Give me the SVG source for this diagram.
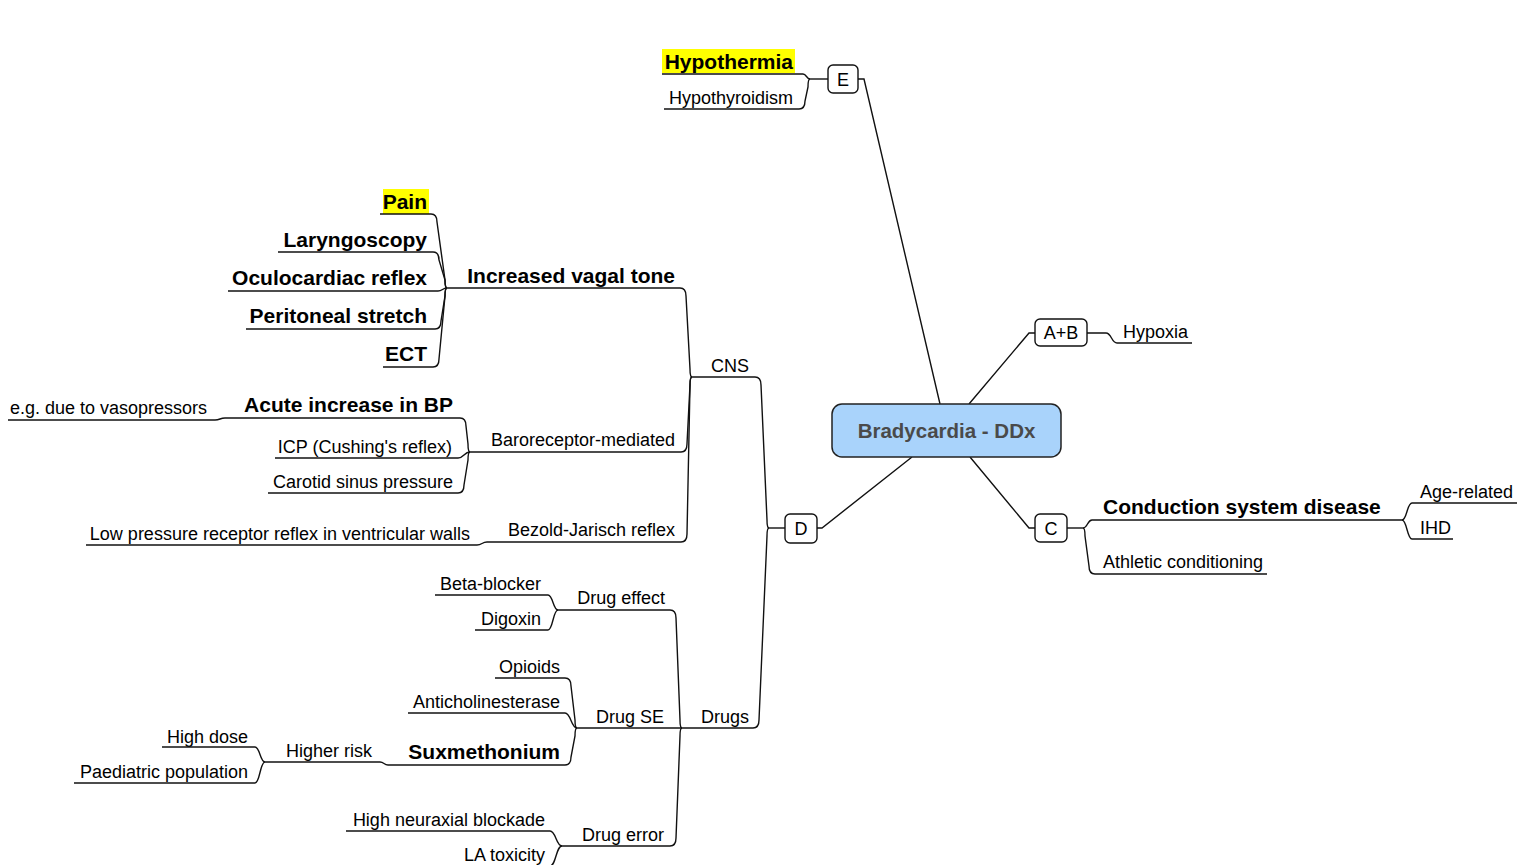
<svg xmlns="http://www.w3.org/2000/svg" width="1534" height="865" viewBox="0 0 1534 865">
<style>
text{font-family:"Liberation Sans",Arial,sans-serif;fill:#000}
.n{font-size:18px}
.b{font-size:21px;font-weight:bold}
.e{text-anchor:end}
.m{text-anchor:middle}
.u,.c path{fill:none;stroke:#111;stroke-width:1.4}
.box{fill:#fff;stroke:#111;stroke-width:1.4}
.hl{fill:#ffff00}
</style>
<rect width="1534" height="865" fill="#fff"/>
<g id="connectors" class="c">
<path d="M858,79 L864,79 L940,404"/>
<path d="M969,404 L1029,333 L1035,333"/>
<path d="M912,457 L822,528 L817,528"/>
<path d="M970,457 L1029,528 L1035,528"/>
<path d="M828,79 L810,79"/>
<path d="M810,79 C806.5,79 806.5,74 803,74"/>
<path d="M810,79 Q808,79 808,87 L805,101 Q805,109 799,109"/>
<path d="M785,528 L769,528"/>
<path d="M769,528 Q767,528 767,520 L761,385 Q761,377 755,377"/>
<path d="M769,528 Q767,528 767,536 L759,720 Q759,728 753,728"/>
<path d="M692,377 Q690,377 690,369 L686,296 Q686,288 680,288"/>
<path d="M692,377 Q690,377 690,385 L687,444 Q687,452 681,452"/>
<path d="M692,377 Q690,377 690,385 L687,534 Q687,542 681,542"/>
<path d="M447,288 Q445,288 445,280 L437,222 Q437,214 431,214"/>
<path d="M447,288 Q445,288 445,280 L439,260 Q439,252 433,252"/>
<path d="M447,288 C442.5,288 442.5,291 438,291"/>
<path d="M447,288 Q445,288 445,296 L441,321 Q441,329 435,329"/>
<path d="M447,288 Q445,288 445,296 L439,359 Q439,367 433,367"/>
<path d="M470,452 Q468,452 468,444 L466,426 Q466,418 460,418"/>
<path d="M470,452 C464,452 464,458 458,458"/>
<path d="M470,452 Q468,452 468,460 L464,485 Q464,493 458,493"/>
<path d="M225,418 C220,418 220,420 215,420"/>
<path d="M487,542 C482,542 482,545 477,545"/>
<path d="M682,728 Q680,728 680,720 L676,618 Q676,610 670,610"/>
<path d="M682,728 Q680,728 680,736 L676,838 Q676,846 670,846"/>
<path d="M558,610 C553,610 553,595 548,595"/>
<path d="M558,610 C553,610 553,630 548,630"/>
<path d="M577,728 Q575,728 575,720 L571,686 Q571,678 565,678"/>
<path d="M577,728 C571,728 571,713 565,713"/>
<path d="M577,728 Q575,728 575,736 L571,757 Q571,765 565,765"/>
<path d="M388,765 C384,765 384,762 380,762"/>
<path d="M265,762 C260,762 260,747 255,747"/>
<path d="M265,762 C260,762 260,783 255,783"/>
<path d="M562,846 C556,846 556,831 550,831"/>
<path d="M562,846 C556,846 556,866 550,866"/>
<path d="M1087,333 L1106,333 C1111.5,333 1111.5,343 1117,343"/>
<path d="M1067,528 L1083,528"/>
<path d="M1083,528 C1087.5,528 1087.5,520 1092,520"/>
<path d="M1083,528 Q1085,528 1085,536 L1089,566 Q1089,574 1095,574"/>
<path d="M1402,520 C1407,520 1407,503 1412,503"/>
<path d="M1402,520 C1407,520 1407,539 1412,539"/>
</g>
<g id="root">
<rect x="832" y="404" width="229" height="53" rx="10" fill="#a9d3fb" stroke="#222" stroke-width="1.5"/>
<text x="946.5" y="438" class="m" style="font-size:20.5px;font-weight:bold;fill:#4a4a4a">Bradycardia - DDx</text>
</g>
<g id="node-E"><rect class="box" x="828" y="65" width="30" height="28" rx="5"/><text class="n m" x="843" y="86">E</text></g>
<g id="node-AB"><rect class="box" x="1035" y="319" width="52" height="27" rx="5"/><text class="n m" x="1061" y="339">A+B</text></g>
<g id="node-D"><rect class="box" x="785" y="514" width="32" height="29" rx="5"/><text class="n m" x="801" y="535">D</text></g>
<g id="node-C"><rect class="box" x="1035" y="514" width="32" height="28" rx="5"/><text class="n m" x="1051" y="535">C</text></g>
<g id="node-hypothermia"><rect class="hl" x="662" y="49" width="133" height="24"/><text class="b e" x="793" y="69">Hypothermia</text><path class="u" d="M662,74 L803,74"/></g>
<g id="node-hypothyroidism"><text class="n e" x="793" y="104">Hypothyroidism</text><path class="u" d="M664,109 L799,109"/></g>
<g id="node-hypoxia"><text class="n" x="1123" y="338">Hypoxia</text><path class="u" d="M1117,343 L1192,343"/></g>
<g id="node-cns"><text class="n e" x="749" y="372">CNS</text><path class="u" d="M692,377 L755,377"/></g>
<g id="node-vagal"><text class="b e" x="675" y="283">Increased vagal tone</text><path class="u" d="M447,288 L680,288"/></g>
<g id="node-pain"><rect class="hl" x="383" y="189" width="46" height="25"/><text class="b e" x="427" y="209">Pain</text><path class="u" d="M380,214 L431,214"/></g>
<g id="node-laryngoscopy"><text class="b e" x="427" y="247">Laryngoscopy</text><path class="u" d="M278,252 L433,252"/></g>
<g id="node-oculocardiac"><text class="b e" x="427" y="285">Oculocardiac reflex</text><path class="u" d="M228,291 L438,291"/></g>
<g id="node-peritoneal"><text class="b e" x="427" y="323">Peritoneal stretch</text><path class="u" d="M246,329 L435,329"/></g>
<g id="node-ect"><text class="b e" x="427" y="361">ECT</text><path class="u" d="M383,367 L433,367"/></g>
<g id="node-baro"><text class="n e" x="675" y="446">Baroreceptor-mediated</text><path class="u" d="M470,452 L681,452"/></g>
<g id="node-acute"><text class="b e" x="453" y="412">Acute increase in BP</text><path class="u" d="M225,418 L460,418"/></g>
<g id="node-eg"><text class="n e" x="207" y="414">e.g. due to vasopressors</text><path class="u" d="M8,420 L215,420"/></g>
<g id="node-icp"><text class="n e" x="452" y="453">ICP (Cushing's reflex)</text><path class="u" d="M275,458 L458,458"/></g>
<g id="node-carotid"><text class="n e" x="453" y="488">Carotid sinus pressure</text><path class="u" d="M268,493 L458,493"/></g>
<g id="node-bezold"><text class="n e" x="675" y="536">Bezold-Jarisch reflex</text><path class="u" d="M487,542 L681,542"/></g>
<g id="node-lowpressure"><text class="n e" x="470" y="540">Low pressure receptor reflex in ventricular walls</text><path class="u" d="M86,545 L477,545"/></g>
<g id="node-drugs"><text class="n e" x="749" y="723">Drugs</text><path class="u" d="M682,728 L753,728"/></g>
<g id="node-drugeffect"><text class="n e" x="665" y="604">Drug effect</text><path class="u" d="M558,610 L670,610"/></g>
<g id="node-beta"><text class="n e" x="541" y="590">Beta-blocker</text><path class="u" d="M435,595 L548,595"/></g>
<g id="node-digoxin"><text class="n e" x="541" y="625">Digoxin</text><path class="u" d="M475,630 L548,630"/></g>
<g id="node-drugse"><text class="n e" x="664" y="723">Drug SE</text><path class="u" d="M577,728 L682,728"/></g>
<g id="node-opioids"><text class="n e" x="560" y="673">Opioids</text><path class="u" d="M495,678 L565,678"/></g>
<g id="node-antichol"><text class="n e" x="560" y="708">Anticholinesterase</text><path class="u" d="M408,713 L565,713"/></g>
<g id="node-sux"><text class="b e" x="560" y="759">Suxmethonium</text><path class="u" d="M388,765 L565,765"/></g>
<g id="node-higherrisk"><text class="n e" x="372" y="757">Higher risk</text><path class="u" d="M265,762 L380,762"/></g>
<g id="node-highdose"><text class="n e" x="248" y="743">High dose</text><path class="u" d="M162,747 L255,747"/></g>
<g id="node-paediatric"><text class="n e" x="248" y="778">Paediatric population</text><path class="u" d="M74,783 L255,783"/></g>
<g id="node-drugerror"><text class="n e" x="664" y="841">Drug error</text><path class="u" d="M562,846 L670,846"/></g>
<g id="node-neuraxial"><text class="n e" x="545" y="826">High neuraxial blockade</text><path class="u" d="M346,831 L550,831"/></g>
<g id="node-la"><text class="n e" x="545" y="861">LA toxicity</text><path class="u" d="M465,866 L550,866"/></g>
<g id="node-conduction"><text class="b" x="1103" y="514">Conduction system disease</text><path class="u" d="M1092,520 L1402,520"/></g>
<g id="node-athletic"><text class="n" x="1103" y="568">Athletic conditioning</text><path class="u" d="M1095,574 L1267,574"/></g>
<g id="node-age"><text class="n" x="1420" y="498">Age-related</text><path class="u" d="M1412,503 L1517,503"/></g>
<g id="node-ihd"><text class="n" x="1420" y="534">IHD</text><path class="u" d="M1412,539 L1453,539"/></g>
</svg>
